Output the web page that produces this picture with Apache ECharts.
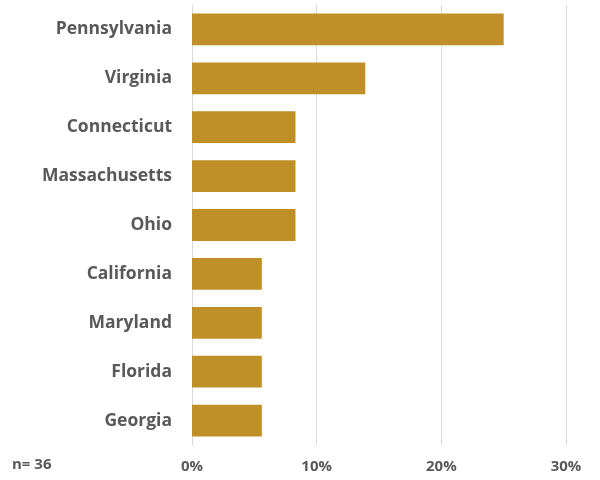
<!DOCTYPE html>
<html>
<head>
<meta charset="utf-8">
<script src="https://cdn.jsdelivr.net/npm/echarts@6/dist/echarts.min.js"></script>
<style>
  html, body { margin: 0; padding: 0; background: #fff; }
  #chart { width: 600px; height: 480px; }
</style>
</head>
<body>
<div id="chart"></div>
<script>
// States, top to bottom, and share of respondents (n = 36)
const states = ['Pennsylvania', 'Virginia', 'Connecticut', 'Massachusetts', 'Ohio', 'California', 'Maryland', 'Florida', 'Georgia'];
const shares = [25.0, 13.9, 8.3, 8.3, 8.3, 5.6, 5.6, 5.6, 5.6];
const sampleNote = 'n= 36';

const textColor = '#595959';
const fontFamily = '"Open Sans", Lato, sans-serif';

const chart = echarts.init(document.getElementById('chart'), null, { renderer: 'canvas' });
chart.setOption({
  animation: false,
  grid: { left: 192, right: 34, top: 5, bottom: 35, containLabel: false },
  xAxis: {
    type: 'value',
    min: 0,
    max: 30,
    interval: 10,
    axisLine: { show: false },
    axisTick: { show: false },
    splitLine: { show: true, lineStyle: { color: '#d9d9d9', width: 1 } },
    axisLabel: {
      formatter: v => v + '%',
      color: textColor,
      fontFamily: fontFamily,
      fontWeight: 'bold',
      fontSize: 15,
      margin: 14
    }
  },
  yAxis: {
    type: 'category',
    data: states,
    inverse: true,
    axisLine: { show: true, lineStyle: { color: '#d9d9d9' } },
    axisTick: { show: false },
    axisLabel: {
      color: textColor,
      fontFamily: fontFamily,
      fontWeight: 'bold',
      fontSize: 17.5,
      margin: 20
    }
  },
  series: [{
    type: 'bar',
    data: shares,
    barWidth: '65%',
    itemStyle: { color: '#BF8F28' }
  }],
  graphic: [{
    type: 'text',
    left: 12,
    top: 457,
    style: {
      text: sampleNote,
      fill: textColor,
      font: 'bold 15px ' + fontFamily
    }
  }]
});
</script>
</body>
</html>
